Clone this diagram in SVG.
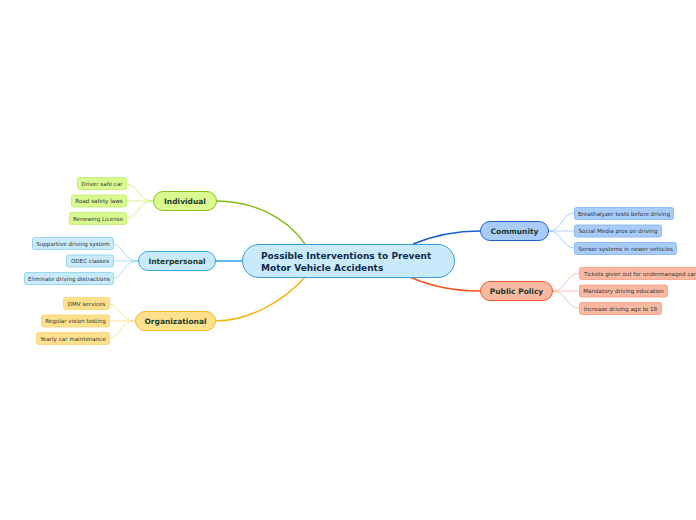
<svg xmlns="http://www.w3.org/2000/svg" width="696" height="520" viewBox="0 0 696 520">
<style>
text{font-family:"DejaVu Sans",Verdana,sans-serif;}
.main{font-size:7.5px;font-weight:bold;fill:#1c3b2a;text-anchor:middle;}
.leaf{font-size:5.6px;fill:#333;text-anchor:middle;}
.ctr{font-size:9px;font-weight:bold;fill:#102a4c;}
.c{fill:none;}
</style>
<rect width="696" height="520" fill="#ffffff"/>
<g id="connectors">
  <path class="c" d="M305,244 C285,215 250,201 216,201" stroke="#84b816" stroke-width="1.5"/>
  <path class="c" d="M242,261 L215,261" stroke="#2aa0dc" stroke-width="1.5"/>
  <path class="c" d="M305,277 C285,300 250,321 215,321" stroke="#f5b316" stroke-width="1.5"/>
  <path class="c" d="M413,244 C435,235 455,231 480,231" stroke="#1b5fd0" stroke-width="1.5"/>
  <path class="c" d="M410,277 C430,286 455,291 480,291" stroke="#f0541e" stroke-width="1.5"/>
  <g stroke="#c8ec7a" stroke-width="0.8" fill="none">
    <path d="M153,201 C138,201 138,184 126,184"/>
    <path d="M153,201 L126,201"/>
    <path d="M153,201 C138,201 138,218 127,218"/>
  </g>
  <g stroke="#8fd6f5" stroke-width="0.8" fill="none">
    <path d="M138,261 C123,261 123,244 113,244"/>
    <path d="M138,261 L113,261"/>
    <path d="M138,261 C123,261 123,278 113,278"/>
  </g>
  <g stroke="#fddc88" stroke-width="0.8" fill="none">
    <path d="M135,321 C120,321 120,304 109,304"/>
    <path d="M135,321 L109,321"/>
    <path d="M135,321 C120,321 120,338 109,338"/>
  </g>
  <g stroke="#9ec2f5" stroke-width="0.8" fill="none">
    <path d="M549,231 C562,231 562,213 574,213"/>
    <path d="M549,231 L574,231"/>
    <path d="M549,231 C562,231 562,248 574,248"/>
  </g>
  <g stroke="#f9b5a0" stroke-width="0.8" fill="none">
    <path d="M553,291 C566,291 566,273 579,273"/>
    <path d="M553,291 L579,291"/>
    <path d="M553,291 C566,291 566,308 579,308"/>
  </g>
</g>
<g id="central">
  <rect x="242.5" y="244.5" width="212" height="33" rx="16.5" fill="#c8eafb" stroke="#3d9bd6" stroke-width="1"/>
  <text class="ctr" x="261" y="259">Possible Interventions to Prevent</text>
  <text class="ctr" x="261" y="270.5">Motor Vehicle Accidents</text>
</g>
<g id="individual">
  <rect x="153.5" y="191.5" width="63" height="19" rx="9.5" fill="#d9fa8e" stroke="#8cbc1e" stroke-width="1"/>
  <text class="main" x="185" y="204">Individual</text>
</g>
<g id="interpersonal">
  <rect x="138.5" y="251.5" width="77" height="19" rx="9.5" fill="#c8eafb" stroke="#3aa5de" stroke-width="1"/>
  <text class="main" x="177" y="264">Interpersonal</text>
</g>
<g id="organizational">
  <rect x="135.5" y="311.5" width="80" height="19" rx="9.5" fill="#ffe08c" stroke="#f5bb2a" stroke-width="1"/>
  <text class="main" x="175.5" y="324">Organizational</text>
</g>
<g id="community">
  <rect x="480.5" y="221.5" width="68" height="19" rx="9.5" fill="#a8cbf8" stroke="#1d63d0" stroke-width="1"/>
  <text class="main" x="514.5" y="234">Community</text>
</g>
<g id="public-policy">
  <rect x="480.5" y="281.5" width="72" height="19" rx="9.5" fill="#f9b8a2" stroke="#ef5a2a" stroke-width="1"/>
  <text class="main" x="516.5" y="294">Public Policy</text>
</g>
<g id="leaf-driver-safe-car">
  <rect x="77.5" y="177.5" width="49" height="12" rx="2" fill="#d9fa8e" stroke="#c0e86a" stroke-width="0.8"/>
  <text class="leaf" x="102" y="185.6">Driver safe car</text>
</g>
<g id="leaf-road-safety-laws">
  <rect x="71.5" y="195" width="55" height="12" rx="2" fill="#d9fa8e" stroke="#c0e86a" stroke-width="0.8"/>
  <text class="leaf" x="99" y="203.1">Road safety laws</text>
</g>
<g id="leaf-renewing-license">
  <rect x="69.5" y="212.5" width="57" height="12" rx="2" fill="#d9fa8e" stroke="#c0e86a" stroke-width="0.8"/>
  <text class="leaf" x="98" y="220.6">Renewing License</text>
</g>
<g id="leaf-supportive">
  <rect x="32.5" y="237.5" width="81" height="12" rx="2" fill="#c8eafb" stroke="#86d0f2" stroke-width="0.8"/>
  <text class="leaf" x="73" y="245.6">Supportive driving system</text>
</g>
<g id="leaf-odec">
  <rect x="66.5" y="255" width="47" height="12" rx="2" fill="#c8eafb" stroke="#86d0f2" stroke-width="0.8"/>
  <text class="leaf" x="90" y="263.1">ODEC classes</text>
</g>
<g id="leaf-eliminate">
  <rect x="24.5" y="272.5" width="89" height="12" rx="2" fill="#c8eafb" stroke="#86d0f2" stroke-width="0.8"/>
  <text class="leaf" x="69" y="280.6">Eliminate driving distractions</text>
</g>
<g id="leaf-dmv">
  <rect x="63.5" y="297.5" width="46" height="12" rx="2" fill="#ffe08c" stroke="#fcd070" stroke-width="0.8"/>
  <text class="leaf" x="86.5" y="305.6">DMV services</text>
</g>
<g id="leaf-vision">
  <rect x="41.5" y="315" width="68" height="12" rx="2" fill="#ffe08c" stroke="#fcd070" stroke-width="0.8"/>
  <text class="leaf" x="75.5" y="323.1">Regular vision testing</text>
</g>
<g id="leaf-yearly">
  <rect x="36.5" y="332.5" width="73" height="12" rx="2" fill="#ffe08c" stroke="#fcd070" stroke-width="0.8"/>
  <text class="leaf" x="73" y="340.6">Yearly car maintenance</text>
</g>
<g id="leaf-breathalyzer">
  <rect x="574.5" y="207.5" width="99" height="12" rx="2" fill="#a8cbf8" stroke="#7eaef0" stroke-width="0.8"/>
  <text class="leaf" x="624" y="215.6">Breathalyzer tests before driving</text>
</g>
<g id="leaf-social">
  <rect x="574.5" y="225" width="87" height="12" rx="2" fill="#a8cbf8" stroke="#7eaef0" stroke-width="0.8"/>
  <text class="leaf" x="618" y="233.1">Social Media pros on driving</text>
</g>
<g id="leaf-sensor">
  <rect x="574.5" y="242.5" width="102" height="12" rx="2" fill="#a8cbf8" stroke="#7eaef0" stroke-width="0.8"/>
  <text class="leaf" x="625.5" y="250.6">Sensor systems in newer vehicles</text>
</g>
<g id="leaf-tickets">
  <rect x="579.5" y="267.5" width="122" height="12" rx="2" fill="#f9b8a2" stroke="#f59a7e" stroke-width="0.8"/>
  <text class="leaf" x="584" y="275.6" style="text-anchor:start">Tickets given out for undermanaged cars</text>
</g>
<g id="leaf-mandatory">
  <rect x="579.5" y="285" width="88" height="12" rx="2" fill="#f9b8a2" stroke="#f59a7e" stroke-width="0.8"/>
  <text class="leaf" x="623.5" y="293.1">Mandatory driving education</text>
</g>
<g id="leaf-increase">
  <rect x="579.5" y="302.5" width="82" height="12" rx="2" fill="#f9b8a2" stroke="#f59a7e" stroke-width="0.8"/>
  <text class="leaf" x="620.5" y="310.6">Increase driving age to 18</text>
</g>
</svg>
